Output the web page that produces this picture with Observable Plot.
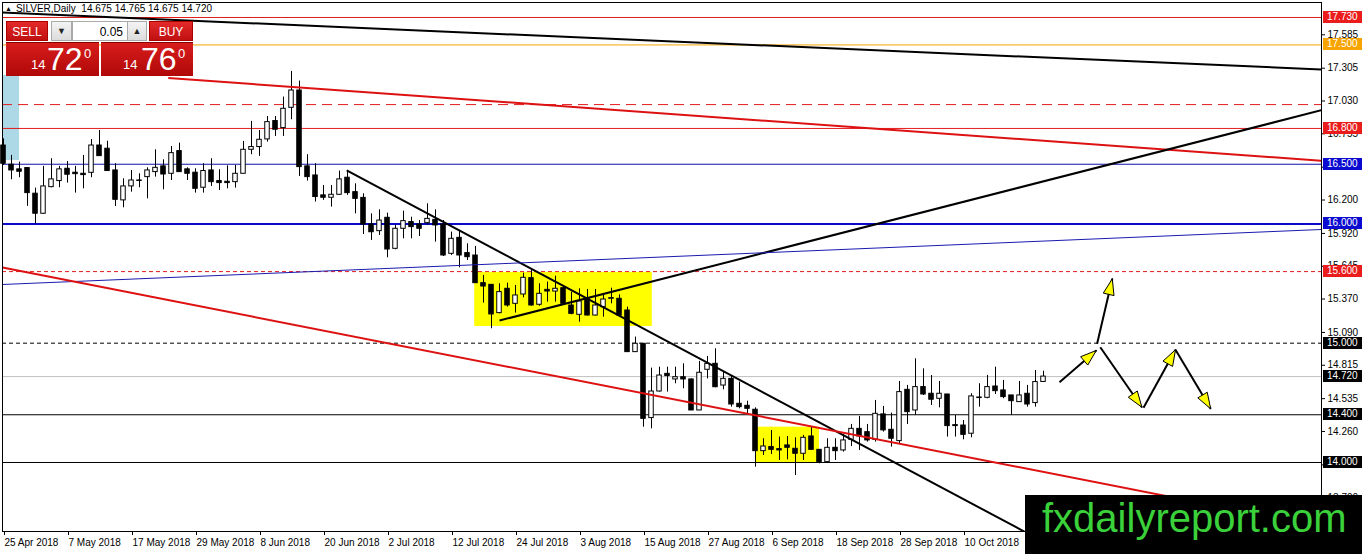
<!DOCTYPE html>
<html>
<head>
<meta charset="utf-8">
<script src="https://cdn.jsdelivr.net/npm/d3@7"></script>
<script src="https://cdn.jsdelivr.net/npm/@observablehq/plot@0.6"></script>
<style>
  body { margin: 0; background: #fff; font-family: "Liberation Sans", Arial, sans-serif; }
  #wrap { position: relative; width: 1362px; height: 554px; overflow: hidden; background: #fff; }
  #chart { position: absolute; left: 0; top: 0; }
  #title { position: absolute; left: 5px; top: 3px; font-size: 10px; color: #000; white-space: pre; }
  #title .ico { font-size: 7px; vertical-align: 1px; margin-right: 4px; }
  .pbtn { position: absolute; top: 21px; height: 20px; line-height: 20px; color: #fff; font-size: 12px; text-align: center;
          background: linear-gradient(#e42a2a, #c01010); border: 1px solid #a00; box-sizing: border-box; }
  .gbtn { position: absolute; top: 21px; height: 20px; line-height: 19px; font-size: 9px; text-align: center; color: #222;
          background: linear-gradient(#f4f4f4, #dcdcdc); border: 1px solid #aaa; box-sizing: border-box; }
  #lot { position: absolute; left: 72px; top: 21px; width: 56px; height: 20px; line-height: 20px; background: #fff;
         border: 1px solid #aaa; box-sizing: border-box; font-size: 12px; text-align: right; padding-right: 4px; }
  .pbox { position: absolute; top: 42px; height: 34px; background: linear-gradient(#d81c1c, #b00808); border-top: 1px solid #8a0000; box-sizing: border-box; color: #fff; }
  .pbox span { position: absolute; }
  .pbox .sm { font-size: 13px; top: 14px; }
  .pbox .big { font-size: 32px; top: -2px; font-weight: 300; }
  .pbox .sup { font-size: 13px; top: 3px; }
  .lvl { position: absolute; left: 1323px; width: 39px; height: 12px; line-height: 12px; font-size: 10px; color: #fff; padding-left: 4px; box-sizing: border-box; }
  #mark { position: absolute; left: 1025px; top: 495px; width: 337px; height: 59px; background: #000; color: #3ad13a;
          font-size: 40px; line-height: 46px; padding-left: 17px; box-sizing: border-box; white-space: nowrap; }
</style>
</head>
<body>
<div id="wrap">
  <div id="chart"></div>
  <div id="title"><span class="ico">▲</span>SILVER,Daily  14.675 14.765 14.675 14.720</div>
  <div class="pbtn" style="left:6px;width:42px">SELL</div>
  <div class="gbtn" style="left:51px;width:21px">▼</div>
  <div id="lot">0.05</div>
  <div class="gbtn" style="left:127px;width:20px">▲</div>
  <div class="pbtn" style="left:149px;width:44px">BUY</div>
  <div class="pbox" style="left:6px;width:93px"><span class="sm" style="left:25px">14</span><span class="big" style="left:41px">72</span><span class="sup" style="left:78px">0</span></div>
  <div class="pbox" style="left:101px;width:92px"><span class="sm" style="left:22px">14</span><span class="big" style="left:40px">76</span><span class="sup" style="left:77px">0</span></div>
  <div id="mark">fxdailyreport.com</div>
</div>
<script>
// daily OHLC, 25 Apr 2018 .. 24 Oct 2018 (bar index 0..130)
const open = [
  16.657,16.496,16.457,16.468,16.253,16.085,16.308,16.359,16.462,16.429,
  16.420,16.428,16.657,16.630,16.448,16.197,16.314,16.364,16.392,16.434,
  16.482,16.420,16.610,16.457,16.429,16.303,16.448,16.359,16.353,16.350,
  16.420,16.621,16.644,16.708,16.862,16.803,16.973,17.118,16.482,16.406,
  16.239,16.219,16.244,16.387,16.266,16.218,15.995,15.939,16.051,15.791,
  15.959,16.015,15.995,16.006,16.034,15.995,15.749,15.883,15.755,15.735,
  15.503,15.489,15.252,15.456,15.330,15.408,15.545,15.322,15.447,15.433,
  15.461,15.316,15.238,15.372,15.232,15.302,15.372,15.372,15.274,14.925,
  14.995,14.372,14.595,14.743,14.696,14.715,14.696,14.436,14.777,14.827,
  14.645,14.701,14.492,14.475,14.442,14.095,14.129,14.112,14.143,14.115,
  14.073,14.218,14.106,14.003,14.123,14.101,14.190,14.282,14.254,14.190,
  14.403,14.274,14.179,14.609,14.436,14.632,14.576,14.534,14.570,14.313,
  14.310,14.241,14.540,14.542,14.637,14.604,14.562,14.506,14.576,14.498,
  14.675];
const high = [
  16.713,16.574,16.518,16.470,16.300,16.482,16.546,16.482,16.523,16.482,
  16.574,16.707,16.783,16.693,16.504,16.378,16.448,16.420,16.470,16.621,
  16.537,16.649,16.677,16.470,16.462,16.504,16.546,16.454,16.487,16.490,
  16.691,16.859,16.783,16.900,16.900,17.063,17.278,17.197,16.580,16.504,
  16.322,16.322,16.443,16.448,16.336,16.252,16.084,16.118,16.090,15.987,
  16.107,16.056,16.028,16.168,16.118,16.028,15.931,15.945,15.833,15.811,
  15.568,15.489,15.498,15.503,15.484,15.587,15.618,15.498,15.512,15.562,
  15.478,15.428,15.456,15.450,15.450,15.414,15.461,15.405,15.302,15.051,
  14.995,14.791,14.799,14.799,14.799,14.827,14.700,14.847,14.889,14.953,
  14.757,14.729,14.674,14.514,14.458,14.199,14.268,14.213,14.218,14.207,
  14.227,14.296,14.106,14.199,14.199,14.235,14.319,14.386,14.319,14.520,
  14.470,14.414,14.679,14.646,14.869,14.785,14.729,14.679,14.570,14.394,
  14.352,14.576,14.660,14.730,14.799,14.688,14.562,14.679,14.646,14.771,
  14.765];
const low = [
  16.490,16.370,16.387,16.147,16.000,16.080,16.303,16.303,16.342,16.258,
  16.294,16.387,16.568,16.443,16.146,16.135,16.266,16.303,16.210,16.392,
  16.286,16.364,16.434,16.364,16.258,16.258,16.314,16.280,16.294,16.300,
  16.420,16.580,16.566,16.686,16.733,16.733,16.873,16.398,16.359,16.183,
  16.197,16.141,16.239,16.239,16.084,15.911,15.861,15.903,15.716,15.783,
  15.875,15.875,15.894,15.987,15.847,15.727,15.735,15.632,15.693,15.503,
  15.336,15.121,15.246,15.302,15.252,15.380,15.310,15.310,15.344,15.344,
  15.322,15.238,15.176,15.227,15.227,15.218,15.330,15.232,14.925,14.925,
  14.296,14.282,14.590,14.590,14.660,14.618,14.436,14.436,14.701,14.626,
  14.609,14.464,14.450,14.402,13.961,14.059,14.067,14.017,14.022,13.891,
  14.017,14.106,13.989,13.995,14.017,14.087,14.134,14.101,14.171,14.171,
  14.255,14.129,14.157,14.319,14.394,14.562,14.478,14.458,14.213,14.213,
  14.190,14.207,14.464,14.534,14.570,14.534,14.394,14.506,14.464,14.464,
  14.675];
const close = [
  16.504,16.448,16.437,16.258,16.085,16.314,16.373,16.457,16.412,16.417,
  16.409,16.657,16.568,16.443,16.202,16.314,16.364,16.360,16.448,16.470,
  16.414,16.593,16.434,16.420,16.294,16.443,16.350,16.342,16.342,16.420,
  16.621,16.644,16.705,16.853,16.789,16.965,17.118,16.476,16.392,16.225,
  16.219,16.244,16.373,16.258,16.210,15.995,15.930,16.028,15.785,15.959,
  16.023,15.973,15.959,16.042,15.987,15.735,15.875,15.735,15.721,15.503,
  15.475,15.241,15.428,15.316,15.400,15.548,15.316,15.414,15.433,15.456,
  15.330,15.246,15.350,15.232,15.316,15.366,15.378,15.232,14.925,14.995,
  14.366,14.595,14.729,14.724,14.715,14.696,14.436,14.752,14.827,14.631,
  14.701,14.486,14.464,14.450,14.095,14.134,14.106,14.101,14.123,14.073,
  14.207,14.106,14.003,14.123,14.095,14.185,14.282,14.218,14.185,14.408,
  14.269,14.199,14.590,14.422,14.632,14.570,14.526,14.576,14.305,14.305,
  14.232,14.554,14.545,14.632,14.598,14.548,14.514,14.562,14.486,14.674,
  14.720];

// time axis labels (bar index -> date)
const dateTickBars = [0, 8, 16, 24, 32, 40, 48, 56, 64, 72, 80, 88, 96, 104, 112, 120];
const dateTickLabels = ["25 Apr 2018", "7 May 2018", "17 May 2018", "29 May 2018", "8 Jun 2018", "20 Jun 2018",
  "2 Jul 2018", "12 Jul 2018", "24 Jul 2018", "3 Aug 2018", "15 Aug 2018", "27 Aug 2018",
  "6 Sep 2018", "18 Sep 2018", "28 Sep 2018", "10 Oct 2018"];

// price scale ticks
const priceTicks = [17.585, 17.305, 17.030, 16.755, 16.475, 16.200, 15.920, 15.645, 15.370, 15.090,
  14.815, 14.535, 14.260, 13.980, 13.700];

// horizontal levels
const solidLevels = [17.73, 17.5, 16.8, 16.5, 14.72, 14.4, 14.0];
const solidColors = ["#e41b1b", "#f5a300", "#e41b1b", "#1010b0", "#c0c0c0", "#000", "#000"];
const thickLevel = 16.0;
const dashedRedLevel = 17.0;
const dottedRedLevel = 15.6;
const dottedBlackLevel = 15.0;

// labelled price boxes on the right
const boxPrices = [17.73, 17.5, 16.8, 16.5, 16.0, 15.6, 15.0, 14.72, 14.4, 14.0];
const boxColors = ["#ea1c1c", "#f7a400", "#ea1c1c", "#0a0ad0", "#0a0ad0", "#ea1c1c", "#000", "#000", "#000", "#000"];

// trend lines: [bar1, price1, bar2, price2]
const trendStart = [[-0.125, 17.772], [20.6, 17.223], [62.0, 15.190], [42.9, 16.448], [-0.125, 15.492], [-0.125, 15.634]];
const trendEnd = [[164.75, 17.294], [164.75, 16.529], [164.75, 16.953], [127.6, 13.421], [164.75, 15.953], [164.75, 13.463]];
const trendColors = ["#000", "#dd1111", "#000", "#000", "#1a1ab0", "#dd1111"];
const trendWidths = [2, 2, 2, 2, 1, 2];

// shaded zones: [bar1, bar2, price low, price high]
const yellowZones = [[58.9, 81.1, 15.140, 15.593], [94.0, 102.0, 13.994, 14.296]];
const blueZone = [-0.125, 2.0, 16.531, 17.244];

// forecast path arrows: [bar, price] start and end
const arrowFrom = [[132.0, 14.673], [136.7, 14.995], [137.1, 14.966], [142.5, 14.458], [146.5, 14.945]];
const arrowTo = [[136.6, 14.939], [138.6, 15.540], [142.3, 14.463], [146.5, 14.945], [150.9, 14.450]];

const W = 1362, H = 554, mL = 2, mR = 41, mT = 2, mB = 23;
const xDomain = [-0.125, 164.75];
const yDomain = [13.4215, 17.8557];
const kx = (W - mL - mR) / (xDomain[1] - xDomain[0]);
const ky = (H - mT - mB) / (yDomain[1] - yDomain[0]);

const bars = open.map((o, i) => ({i, open: o, high: high[i], low: low[i], close: close[i]}));
const trends = trendStart.map((s, k) => ({x1: s[0], y1: s[1], x2: trendEnd[k][0], y2: trendEnd[k][1], c: trendColors[k], w: trendWidths[k]}));
const arrows = arrowFrom.map((s, k) => ({x1: s[0], y1: s[1], x2: arrowTo[k][0], y2: arrowTo[k][1]}));

// yellow arrow heads as small triangles
const heads = [];
arrows.forEach((a, k) => {
  const dx = (a.x2 - a.x1) * kx, dy = (a.y2 - a.y1) * ky;
  const len = Math.hypot(dx, dy), ux = dx / len, uy = dy / len;
  const L = 16, Wd = 5.5;
  const p1 = {x: a.x2, y: a.y2};
  const p2 = {x: a.x2 + (-L * ux - Wd * uy) / kx, y: a.y2 + (-L * uy + Wd * ux) / ky};
  const p3 = {x: a.x2 + (-L * ux + Wd * uy) / kx, y: a.y2 + (-L * uy - Wd * ux) / ky};
  [p1, p2, p3, p1].forEach(p => heads.push({...p, k}));
});

const chart = Plot.plot({
  width: W, height: H,
  marginLeft: mL, marginRight: mR, marginTop: mT, marginBottom: mB,
  style: {fontFamily: "Liberation Sans, Arial, sans-serif", fontSize: "10px", background: "#fff", color: "#000"},
  x: {type: "linear", domain: xDomain, label: null},
  y: {type: "linear", domain: yDomain, label: null},
  marks: [
    Plot.rect([blueZone], {x1: d => d[0], x2: d => d[1], y1: d => d[2], y2: d => d[3], fill: "#add8e6"}),
    Plot.rect(yellowZones, {x1: d => d[0], x2: d => d[1], y1: d => d[2], y2: d => d[3], fill: "#ffff00"}),
    Plot.ruleY(solidLevels, {stroke: (d, i) => solidColors[i], strokeWidth: 1}),
    Plot.ruleY([thickLevel], {stroke: "#0a0ac8", strokeWidth: 2}),
    Plot.ruleY([dashedRedLevel], {stroke: "#e41b1b", strokeDasharray: "10,6"}),
    Plot.ruleY([dottedRedLevel], {stroke: "#e41b1b", strokeDasharray: "4,3"}),
    Plot.ruleY([dottedBlackLevel], {stroke: "#000", strokeDasharray: "4,3"}),
    // candles
    Plot.ruleX(bars, {x: "i", y1: "low", y2: "high", stroke: "#000", strokeWidth: 1}),
    Plot.rect(bars, {
      x1: d => d.i - 0.28, x2: d => d.i + 0.28, y1: "open", y2: "close",
      fill: d => d.close > d.open ? "#fff" : "#000", stroke: "#000", strokeWidth: 1
    }),
    // trend lines
    Plot.link(trends, {x1: "x1", y1: "y1", x2: "x2", y2: "y2", stroke: "c", strokeWidth: "w", clip: true}),
    // forecast arrows
    Plot.link(arrows, {x1: "x1", y1: "y1", x2: "x2", y2: "y2", stroke: "#000", strokeWidth: 2}),
    Plot.line(heads, {x: "x", y: "y", z: "k", fill: "#ffff00", stroke: "#000", strokeWidth: 1, curve: "linear"}),
    Plot.frame({stroke: "#000"}),
    Plot.axisY(priceTicks, {anchor: "right", tickSize: 3, tickPadding: 3, tickFormat: d => d.toFixed(3)}),
    Plot.axisX(dateTickBars, {anchor: "bottom", tickSize: 4, tickPadding: 3, textAnchor: "start", dx: 1,
      tickFormat: d => dateTickLabels[dateTickBars.indexOf(d)]})
  ]
});

document.getElementById("chart").append(chart);

// coloured price boxes on the price scale
const yScale = chart.scale("y");
const wrap = document.getElementById("wrap");
const mark = document.getElementById("mark");
boxPrices.forEach((p, k) => {
  const div = document.createElement("div");
  div.className = "lvl";
  div.style.top = (yScale.apply(p) - 6) + "px";
  div.style.background = boxColors[k];
  div.textContent = p.toFixed(3);
  wrap.insertBefore(div, mark);
});
</script>
</body>
</html>
